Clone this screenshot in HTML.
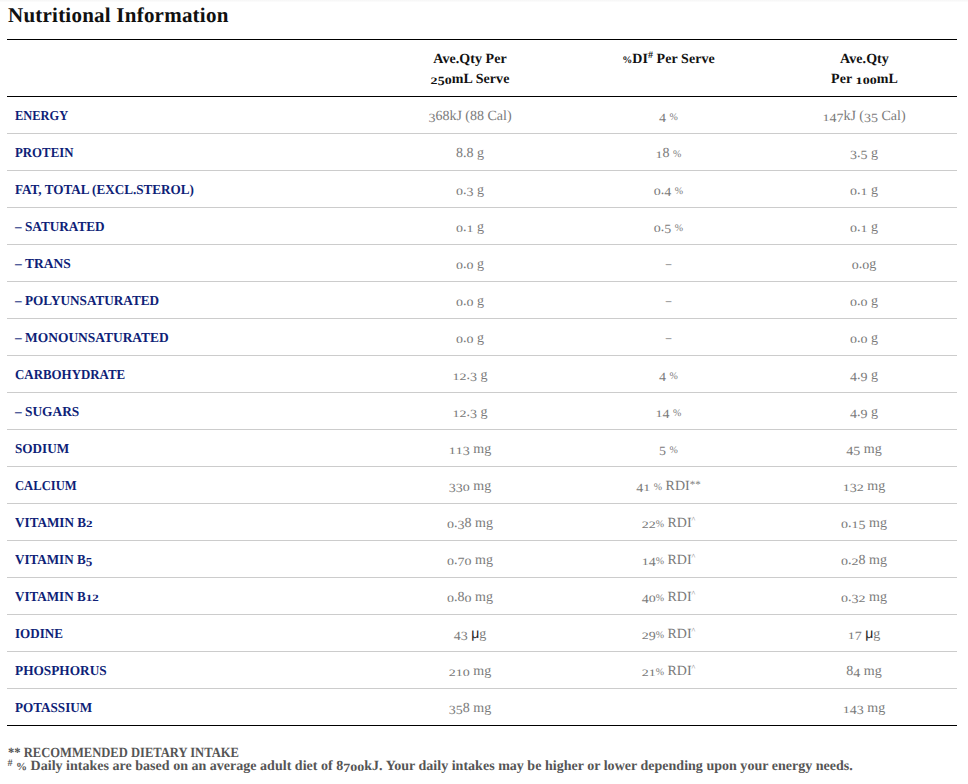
<!DOCTYPE html>
<html lang="en">
<head>
<meta charset="utf-8">
<title>Nutritional Information</title>
<style>
html,body{margin:0;padding:0;background:#fff;}
body{text-rendering:geometricPrecision;width:968px;height:784px;overflow:hidden;position:relative;font-family:"Liberation Serif",serif;font-size:14px;color:#111;}
h1{position:absolute;left:8px;top:3px;margin:0;font-size:21px;letter-spacing:.23px;line-height:24px;font-weight:bold;color:#111;white-space:nowrap;}
table{position:absolute;left:7px;top:39px;width:950px;border-collapse:collapse;table-layout:fixed;border-top:1px solid #000;border-bottom:1px solid #000;}
col.c1{width:368px}col.c2{width:190px}col.c3{width:207px}col.c4{width:185px}
th,td{padding:0;margin:0;}
thead th{height:56px;border-bottom:1px solid #000;font-weight:bold;font-size:14px;line-height:20px;text-align:center;vertical-align:top;color:#111;letter-spacing:.06px;}
thead th div{padding-top:10px;}
tbody td{height:32px;padding-top:4px;border-bottom:1px solid #ccc;text-align:center;color:#7a7a7a;font-size:14px;line-height:32px;vertical-align:middle;}
tbody tr:last-child td{border-bottom:none;}
tbody td.l{font-size:13.7px;text-align:left;height:34px;line-height:34px;padding:2px 0 0 8px;font-weight:bold;color:#0f1f78;}
.lb{display:inline-block;transform-origin:0 50%;white-space:nowrap;}
sup{font-size:8px;line-height:0;vertical-align:5px;}
thead sup.hs{font-size:10px;vertical-align:5px;}
.topband{position:absolute;left:0;top:0;width:968px;height:2px;background:linear-gradient(#f6f6f6,#fdfdfd);}
.pc{font-size:10px;line-height:0;}
.f1{display:inline-block;transform-origin:0 50%;transform:scaleX(.898);}
.mu{font-family:"Liberation Sans",sans-serif;color:#222;font-size:14px;line-height:0;}
.as{font-size:11px;line-height:0;vertical-align:2px;}
tbody td:last-child{padding-right:1px;}
.f2{letter-spacing:.018px;}
.foot sup.fs{font-size:10px;vertical-align:4px;}
.foot .fp{font-size:11px;}
.foot{position:absolute;left:7.5px;top:746.8px;font-weight:bold;font-size:14px;line-height:13px;color:#555;white-space:nowrap;}
i.x,i.y{font-style:normal;display:inline-block;line-height:1;transform-origin:50% 83.7%;}
i.x{transform:scaleY(.7);}
i.y{transform:translateY(.145em) scaleY(.9);}
.d{display:inline-block;transform:scaleX(.8);}
</style>
</head>
<body>
<div class="topband"></div>
<h1>Nutritional Information</h1>
<table>
<colgroup><col class="c1"><col class="c2"><col class="c3"><col class="c4"></colgroup>
<thead>
<tr><th></th><th><div>Ave.Qty Per<br><i class="x">2</i><i class="y">5</i><i class="x">0</i>mL Serve</div></th><th><div><span class="pc">%</span>DI<sup class="hs">#</sup> Per Serve</div></th><th><div>Ave.Qty<br>Per <i class="x">1</i><i class="x">0</i><i class="x">0</i>mL</div></th></tr>
</thead>
<tbody>
<tr><td class="l"><span class="lb" style="transform:scaleX(0.908)">ENERGY</span></td><td><i class="y">3</i>68kJ (88 Cal)</td><td><i class="y">4</i> <span class="pc">%</span></td><td><i class="x">1</i><i class="y">4</i><i class="y">7</i>kJ (<i class="y">3</i><i class="y">5</i> Cal)</td></tr>
<tr><td class="l"><span class="lb" style="transform:scaleX(0.937)">PROTEIN</span></td><td>8.8 g</td><td><i class="x">1</i>8 <span class="pc">%</span></td><td><i class="y">3</i>.<i class="y">5</i> g</td></tr>
<tr><td class="l"><span class="lb" style="transform:scaleX(0.960)">FAT, TOTAL (EXCL.STEROL)</span></td><td><i class="x">0</i>.<i class="y">3</i> g</td><td><i class="x">0</i>.<i class="y">4</i> <span class="pc">%</span></td><td><i class="x">0</i>.<i class="x">1</i> g</td></tr>
<tr><td class="l"><span class="lb" style="transform:scaleX(0.968)">– SATURATED</span></td><td><i class="x">0</i>.<i class="x">1</i> g</td><td><i class="x">0</i>.<i class="y">5</i> <span class="pc">%</span></td><td><i class="x">0</i>.<i class="x">1</i> g</td></tr>
<tr><td class="l"><span class="lb" style="transform:scaleX(0.987)">– TRANS</span></td><td><i class="x">0</i>.<i class="x">0</i> g</td><td><span class="d">–</span></td><td><i class="x">0</i>.<i class="x">0</i>g</td></tr>
<tr><td class="l"><span class="lb" style="transform:scaleX(0.966)">– POLYUNSATURATED</span></td><td><i class="x">0</i>.<i class="x">0</i> g</td><td><span class="d">–</span></td><td><i class="x">0</i>.<i class="x">0</i> g</td></tr>
<tr><td class="l"><span class="lb" style="transform:scaleX(0.982)">– MONOUNSATURATED</span></td><td><i class="x">0</i>.<i class="x">0</i> g</td><td><span class="d">–</span></td><td><i class="x">0</i>.<i class="x">0</i> g</td></tr>
<tr><td class="l"><span class="lb" style="transform:scaleX(0.943)">CARBOHYDRATE</span></td><td><i class="x">1</i><i class="x">2</i>.<i class="y">3</i> g</td><td><i class="y">4</i> <span class="pc">%</span></td><td><i class="y">4</i>.<i class="y">9</i> g</td></tr>
<tr><td class="l"><span class="lb" style="transform:scaleX(0.976)">– SUGARS</span></td><td><i class="x">1</i><i class="x">2</i>.<i class="y">3</i> g</td><td><i class="x">1</i><i class="y">4</i> <span class="pc">%</span></td><td><i class="y">4</i>.<i class="y">9</i> g</td></tr>
<tr><td class="l"><span class="lb" style="transform:scaleX(0.963)">SODIUM</span></td><td><i class="x">1</i><i class="x">1</i><i class="y">3</i> mg</td><td><i class="y">5</i> <span class="pc">%</span></td><td><i class="y">4</i><i class="y">5</i> mg</td></tr>
<tr><td class="l"><span class="lb" style="transform:scaleX(0.922)">CALCIUM</span></td><td><i class="y">3</i><i class="y">3</i><i class="x">0</i> mg</td><td><i class="y">4</i><i class="x">1</i> <span class="pc">%</span> RDI<span class="as">**</span></td><td><i class="x">1</i><i class="y">3</i><i class="x">2</i> mg</td></tr>
<tr><td class="l"><span class="lb" style="transform:scaleX(0.962)">VITAMIN B<i class="x">2</i></span></td><td><i class="x">0</i>.<i class="y">3</i>8 mg</td><td><i class="x">2</i><i class="x">2</i><span class="pc">%</span> RDI<sup>^</sup></td><td><i class="x">0</i>.<i class="x">1</i><i class="y">5</i> mg</td></tr>
<tr><td class="l"><span class="lb" style="transform:scaleX(0.956)">VITAMIN B<i class="y">5</i></span></td><td><i class="x">0</i>.<i class="y">7</i><i class="x">0</i> mg</td><td><i class="x">1</i><i class="y">4</i><span class="pc">%</span> RDI<sup>^</sup></td><td><i class="x">0</i>.<i class="x">2</i>8 mg</td></tr>
<tr><td class="l"><span class="lb" style="transform:scaleX(0.956)">VITAMIN B<i class="x">1</i><i class="x">2</i></span></td><td><i class="x">0</i>.8<i class="x">0</i> mg</td><td><i class="y">4</i><i class="x">0</i><span class="pc">%</span> RDI<sup>^</sup></td><td><i class="x">0</i>.<i class="y">3</i><i class="x">2</i> mg</td></tr>
<tr><td class="l"><span class="lb" style="transform:scaleX(0.955)">IODINE</span></td><td><i class="y">4</i><i class="y">3</i> <span class="mu">μ</span>g</td><td><i class="x">2</i><i class="y">9</i><span class="pc">%</span> RDI<sup>^</sup></td><td><i class="x">1</i><i class="y">7</i> <span class="mu">μ</span>g</td></tr>
<tr><td class="l"><span class="lb" style="transform:scaleX(0.972)">PHOSPHORUS</span></td><td><i class="x">2</i><i class="x">1</i><i class="x">0</i> mg</td><td><i class="x">2</i><i class="x">1</i><span class="pc">%</span> RDI<sup>^</sup></td><td>8<i class="y">4</i> mg</td></tr>
<tr><td class="l"><span class="lb" style="transform:scaleX(0.960)">POTASSIUM</span></td><td><i class="y">3</i><i class="y">5</i>8 mg</td><td></td><td><i class="x">1</i><i class="y">4</i><i class="y">3</i> mg</td></tr>
</tbody>
</table>
<div class="foot"><span class="f1">** RECOMMENDED DIETARY INTAKE</span><br><span class="f2"><sup class="fs">#</sup> <span class="pc fp">%</span> Daily intakes are based on an average adult diet of 8<i class="y">7</i><i class="x">0</i><i class="x">0</i>kJ. Your daily intakes may be higher or lower depending upon your energy needs.</span></div>
</body>
</html>
